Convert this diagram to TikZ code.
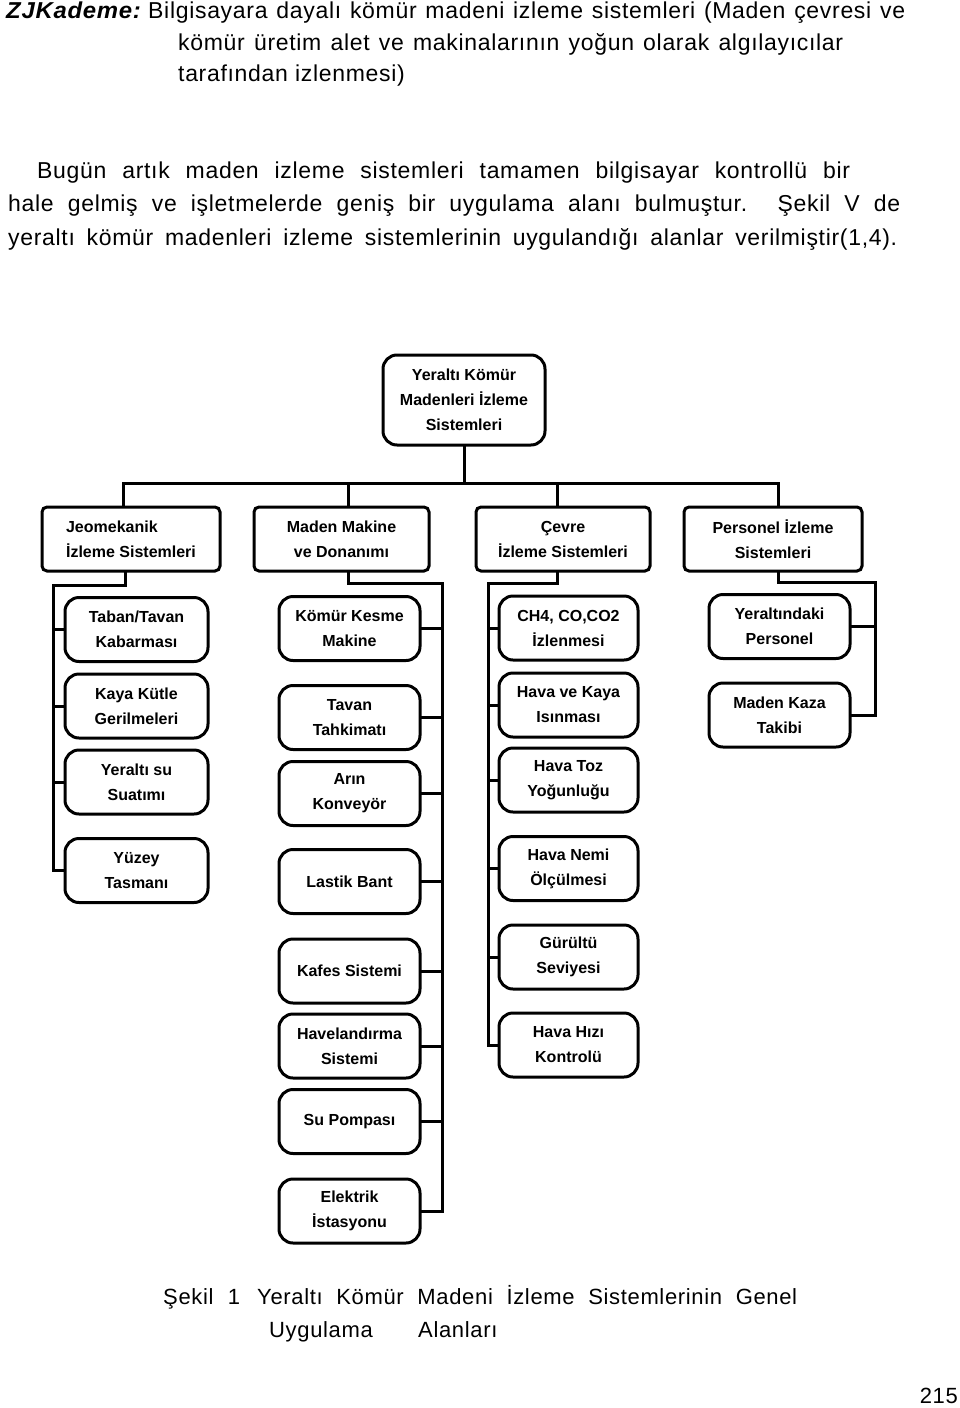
\documentclass[tikz,border=0pt]{standalone}
\usepackage{fontspec}
\usepackage{graphicx}
\setmainfont{Liberation Sans}
\newfontfamily\bodyfam{Liberation Sans}[LetterSpace=3]
\newcommand\boxf{\fontsize{16}{25}\selectfont\bfseries}
\newcommand\bodyf{\bodyfam\fontsize{23}{31}\selectfont}
\newcommand\capf{\bodyfam\fontsize{22}{31}\selectfont}
\tikzset{
  conn/.style={line width=3pt, line cap=rect},
  topbox/.style={draw, line width=3pt, rounded corners=14pt, minimum width=162pt, minimum height=90pt, align=center, font=\boxf, inner sep=0pt},
  grpbox/.style={draw, line width=3pt, rounded corners=5pt, minimum height=64pt, align=center, font=\boxf, inner sep=0pt},
  leafbox/.style={draw, line width=3pt, rounded corners=14pt, minimum height=64pt, minimum width=141pt, align=center, font=\boxf, inner sep=0pt},
  txt/.style={anchor=base west, inner sep=0pt, font=\bodyf},
  captxt/.style={anchor=base west, inner sep=0pt, font=\capf},
}
\begin{document}
\begin{tikzpicture}[x=1pt,y=-1pt]
\fill[white] (0,0) rectangle (960,1408);
\useasboundingbox (0,0) rectangle (960,1408);

% header text
\node[txt, font=\bodyf\bfseries\itshape] (zj) at (6,19) {\scalebox{1.04}[1]{ZJKademe:}};
\node[txt] (h1) at (148,19) {\makebox[757pt][s]{Bilgisayara dayalı kömür madeni izleme sistemleri (Maden çevresi ve}};
\node[txt] (h2) at (178,50) {\makebox[665pt][s]{kömür üretim alet ve makinalarının yoğun olarak algılayıcılar}};
\node[txt] (h3) at (178,81) {tarafından izlenmesi)};
\node[txt] (p1) at (37,178) {\makebox[813pt][s]{Bugün artık maden izleme sistemleri tamamen bilgisayar kontrollü bir}};
\node[txt] (p2) at (8,211) {\makebox[892pt][s]{hale gelmiş ve işletmelerde geniş bir uygulama alanı bulmuştur. Şekil V de}};
\node[txt] (p3) at (8,245) {\makebox[889pt][s]{yeraltı kömür madenleri izleme sistemlerinin uygulandığı alanlar verilmiştir(1,4).}};

% root and groups
\node[topbox] (root) at (464,400) {Yeraltı Kömür\\Madenleri İzleme\\Sistemleri};
\node[grpbox, minimum width=178pt, align=left] (jeo) at (131,539) {Jeomekanik\\İzleme Sistemleri};
\node[grpbox, minimum width=175pt] (mak) at (341.5,539) {Maden Makine\\ve Donanımı};
\node[grpbox, minimum width=174pt] (cev) at (563,539) {Çevre\\İzleme Sistemleri};
\node[grpbox, minimum width=178pt] (per) at (773,539) {Personel İzleme\\Sistemleri};

% Jeomekanik leaves
\node[leafbox, minimum width=143pt] (j1) at (136.5,629.5) {Taban/Tavan\\Kabarması};
\node[leafbox, minimum width=143pt] (j2) at (136.5,706) {Kaya Kütle\\Gerilmeleri};
\node[leafbox, minimum width=143pt] (j3) at (136.5,782) {Yeraltı su\\Suatımı};
\node[leafbox, minimum width=143pt] (j4) at (136.5,870.5) {Yüzey\\Tasmanı};

% Maden Makine leaves
\node[leafbox] (m1) at (349.5,628.5) {Kömür Kesme\\Makine};
\node[leafbox] (m2) at (349.5,717.5) {Tavan\\Tahkimatı};
\node[leafbox] (m3) at (349.5,793.5) {Arın\\Konveyör};
\node[leafbox] (m4) at (349.5,881.5) {Lastik Bant};
\node[leafbox] (m5) at (349.5,971) {Kafes Sistemi};
\node[leafbox] (m6) at (349.5,1046) {Havelandırma\\Sistemi};
\node[leafbox] (m7) at (349.5,1121.5) {Su Pompası};
\node[leafbox] (m8) at (349.5,1211) {Elektrik\\İstasyonu};

% Cevre leaves
\node[leafbox, minimum width=139pt] (c1) at (568.5,628) {CH4, CO,CO2\\İzlenmesi};
\node[leafbox, minimum width=139pt] (c2) at (568.5,705) {Hava ve Kaya\\Isınması};
\node[leafbox, minimum width=139pt] (c3) at (568.5,780) {Hava Toz\\Yoğunluğu};
\node[leafbox, minimum width=139pt] (c4) at (568.5,868.5) {Hava Nemi\\Ölçülmesi};
\node[leafbox, minimum width=139pt] (c5) at (568.5,957) {Gürültü\\Seviyesi};
\node[leafbox, minimum width=139pt] (c6) at (568.5,1045) {Hava Hızı\\Kontrolü};

% Personel leaves
\node[leafbox] (p1b) at (779.5,626.5) {Yeraltındaki\\Personel};
\node[leafbox] (p2b) at (779.5,715) {Maden Kaza\\Takibi};

% main bus
\coordinate (busL) at (123,483);
\coordinate (busR) at (778,483);
\draw[conn] (root.south) -- (root.south |- busL);
\draw[conn] (jeo.north -| busL) -- (busL) -- (busR) -- (busR |- per.north);
\draw[conn] ([xshift=6.5pt]mak.north) -- ([xshift=6.5pt]mak.north |- busL);
\draw[conn] ([xshift=-6pt]cev.north) -- ([xshift=-6pt]cev.north |- busL);

% Jeomekanik trunk
\coordinate (jt) at (53,585);
\draw[conn] ([xshift=-6pt]jeo.south) |- (jt) -- (jt |- j4.west) -- (j4.west);
\foreach \n in {j1,j2,j3} \draw[conn] (jt |- \n.west) -- (\n.west);

% Maden Makine trunk
\coordinate (mt) at (442,583);
\draw[conn] ([xshift=6.5pt]mak.south) |- (mt) -- (mt |- m8.east) -- (m8.east);
\foreach \n in {m1,m2,m3,m4,m5,m6,m7} \draw[conn] (mt |- \n.east) -- (\n.east);

% Cevre trunk
\coordinate (ct) at (488,583);
\draw[conn] ([xshift=-6pt]cev.south) |- (ct) -- (ct |- c6.west) -- (c6.west);
\foreach \n in {c1,c2,c3,c4,c5} \draw[conn] (ct |- \n.west) -- (\n.west);

% Personel trunk
\coordinate (ptr) at (875,582);
\draw[conn] ([xshift=5pt]per.south) |- (ptr) -- (ptr |- p2b.east) -- (p2b.east);
\draw[conn] (ptr |- p1b.east) -- (p1b.east);

% caption
\node[captxt] (s1) at (163,1304) {\makebox[77pt][s]{Şekil 1}};
\node[captxt] (s2) at (257,1304) {\makebox[540pt][s]{Yeraltı Kömür Madeni İzleme Sistemlerinin Genel}};
\node[captxt] (s3) at (269,1337) {Uygulama};
\node[captxt] (s4) at (418,1337) {Alanları};
\node[captxt, anchor=base east] (pg) at (958,1403) {215};
\end{tikzpicture}
\end{document}
